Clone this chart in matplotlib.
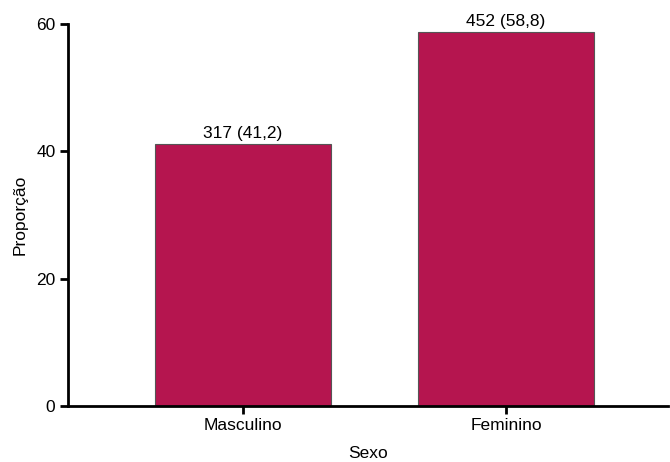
import matplotlib

matplotlib.use("Agg")

import matplotlib.pyplot as plt

categories = ["Masculino", "Feminino"]
counts = [317, 452]
percents = [41.2, 58.8]
y_ticks = [0, 20, 40, 60]

plt.rcParams["font.family"] = ["Liberation Sans", "DejaVu Sans"]
plt.rcParams["font.size"] = 12.5

fig = plt.figure(figsize=(6.7, 4.62), dpi=100)
ax = fig.add_axes([68 / 670, 56 / 462, 600 / 670, 382 / 462])

x = list(range(len(categories)))
ax.bar(x, percents, width=0.67, color="#B5154F", edgecolor="#555555", linewidth=0.8)
for xi, n, p in zip(x, counts, percents):
    ax.text(xi, p + 0.4, f"{n} ({p:.1f})".replace(".", ","), ha="center", va="bottom")

ax.set_xlim(-0.665, 1.616)
ax.set_ylim(0, 60)
ax.set_xticks(x)
ax.set_xticklabels(categories)
ax.set_yticks(y_ticks)
ax.set_xlabel("Sexo", labelpad=9)
ax.set_ylabel("Proporção", labelpad=6)

for side in ("top", "right"):
    ax.spines[side].set_visible(False)
for side in ("left", "bottom"):
    ax.spines[side].set_linewidth(2)
ax.tick_params(width=2, length=6, direction="out", pad=3)

fig.savefig("out.png", dpi=100)
